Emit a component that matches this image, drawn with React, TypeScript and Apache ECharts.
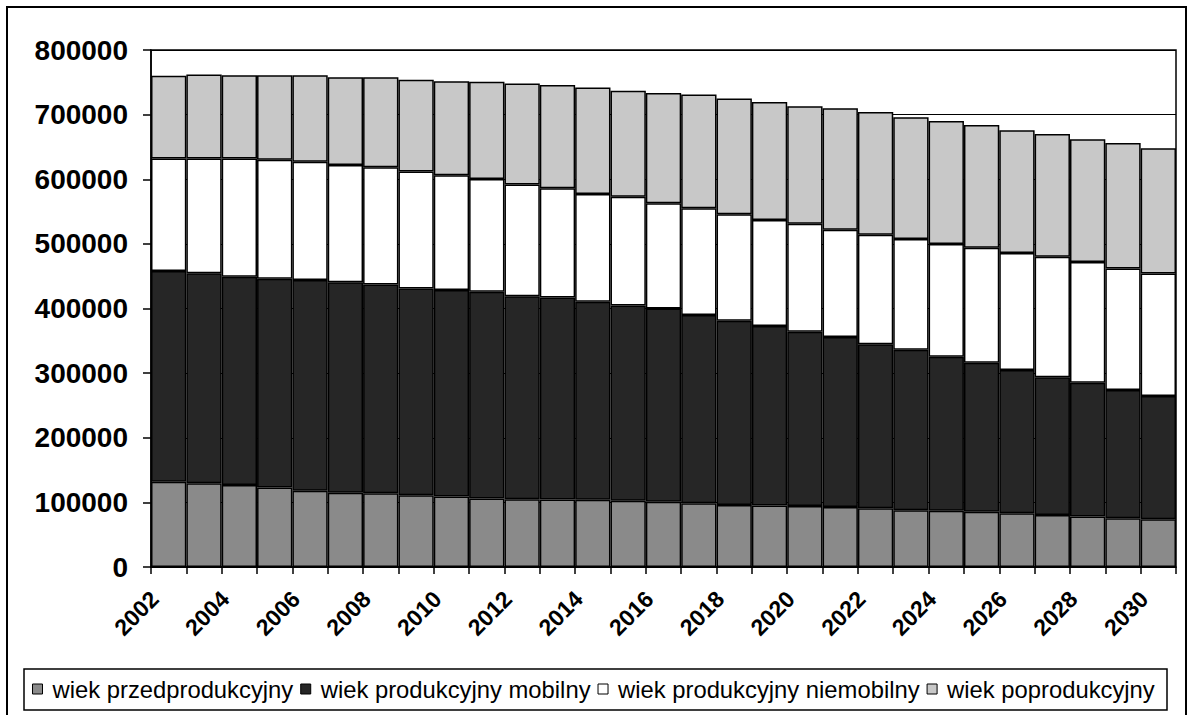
import React, { useEffect, useRef } from "react";
import * as echarts from "echarts";

const years = [
  "2002", "2003", "2004", "2005", "2006", "2007", "2008", "2009", "2010", "2011",
  "2012", "2013", "2014", "2015", "2016", "2017", "2018", "2019", "2020", "2021",
  "2022", "2023", "2024", "2025", "2026", "2027", "2028", "2029", "2030",
];

const przedprodukcyjny = [
  132000, 129500, 127000, 123000, 118000, 115000, 114000, 111000, 109000, 106000,
  105000, 104500, 104000, 102500, 101000, 98500, 96000, 95000, 94500, 93000,
  91000, 88000, 87000, 85500, 83000, 80500, 78000, 75500, 74000,
];

const produkcyjnyMobilny = [
  326000, 325000, 322000, 323000, 326000, 325500, 323000, 320000, 319500, 320000,
  314000, 312500, 306500, 302000, 299000, 291500, 285000, 278000, 269500, 263000,
  253500, 248000, 238500, 230500, 222000, 213000, 207000, 198500, 190500,
];

const produkcyjnyNiemobilny = [
  174000, 177500, 183000, 184000, 183000, 181500, 181500, 181000, 177500, 174500,
  173000, 169000, 166500, 168500, 163000, 165000, 165000, 164000, 167000, 166000,
  169500, 171500, 174500, 178000, 181000, 186500, 187000, 188000, 189500,
];

const poprodukcyjny = [
  128000, 130000, 129000, 131000, 134000, 136000, 139500, 142000, 145500, 150500,
  156000, 160000, 165000, 164000, 170500, 176000, 179000, 182500, 182000, 188000,
  190000, 188500, 190000, 190000, 190000, 190000, 190000, 194000, 194000,
];

const seriesNames = [
  "wiek przedprodukcyjny",
  "wiek produkcyjny mobilny",
  "wiek produkcyjny niemobilny",
  "wiek poprodukcyjny",
];

const FONT = "'Liberation Sans', Arial, Helvetica, sans-serif";

export default function App() {
  const ref = useRef<HTMLDivElement>(null);

  useEffect(() => {
    if (!ref.current) return;
    const chart = echarts.init(ref.current, undefined, { renderer: "svg" });
    const datasets = [przedprodukcyjny, produkcyjnyMobilny, produkcyjnyNiemobilny, poprodukcyjny];
    const colors = ["#8a8a8a", "#262626", "#ffffff", "#c8c8c8"];

    chart.setOption({
      animation: false,
      backgroundColor: "#ffffff",
      textStyle: { fontFamily: FONT, color: "#000" },
      grid: {
        left: 151,
        top: 50,
        right: 14,
        bottom: 148,
        show: true,
        borderColor: "#000",
        borderWidth: 1.5,
        backgroundColor: "transparent",
      },
      xAxis: {
        type: "category",
        data: years,
        boundaryGap: true,
        axisLine: { show: true, lineStyle: { color: "#000", width: 1.5 } },
        axisTick: { show: true, interval: 0, length: 7, lineStyle: { color: "#000", width: 1.5 } },
        axisLabel: {
          interval: 1,
          rotate: 45,
          fontSize: 23,
          fontWeight: "bold",
          margin: 14,
          padding: [0, 20, 0, 0],
          color: "#000",
          fontFamily: FONT,
        },
      },
      yAxis: {
        type: "value",
        min: 0,
        max: 800000,
        interval: 100000,
        axisLine: { show: true, lineStyle: { color: "#000", width: 1.5 } },
        axisTick: { show: true, length: 8, lineStyle: { color: "#000", width: 1.5 } },
        axisLabel: {
          fontSize: 28,
          fontWeight: "bold",
          margin: 23,
          color: "#000",
          fontFamily: FONT,
          formatter: (v: number) => String(v),
        },
        splitLine: { show: true, lineStyle: { color: "#000", width: 1 } },
      },
      legend: {
        data: seriesNames,
        left: 32,
        top: 677,
        padding: 0,
        itemGap: 7,
        itemWidth: 10,
        itemHeight: 10,
        icon: "rect",
        itemStyle: { borderColor: "#000", borderWidth: 1 },
        textStyle: { fontSize: 23.8, color: "#000", fontFamily: FONT, padding: [0, 0, 0, 5] },
      },
      graphic: [
        {
          type: "rect",
          shape: { x: 7, y: 7, width: 1179, height: 730 },
          style: { fill: "none", stroke: "#000", lineWidth: 2 },
          silent: true,
        },
        {
          type: "rect",
          shape: { x: 24, y: 669, width: 1143, height: 41 },
          style: { fill: "none", stroke: "#000", lineWidth: 1.5 },
          silent: true,
        },
      ],
      series: seriesNames.map((name, i) => ({
        name,
        type: "bar",
        stack: "total",
        data: datasets[i],
        barCategoryGap: "0%",
        itemStyle: { color: colors[i], borderColor: "#000", borderWidth: 1.5 },
      })),
    });

    return () => chart.dispose();
  }, []);

  return (
    <div
      ref={ref}
      style={{ position: "fixed", left: 0, top: 0, width: 1190, height: 715 }}
    />
  );
}
